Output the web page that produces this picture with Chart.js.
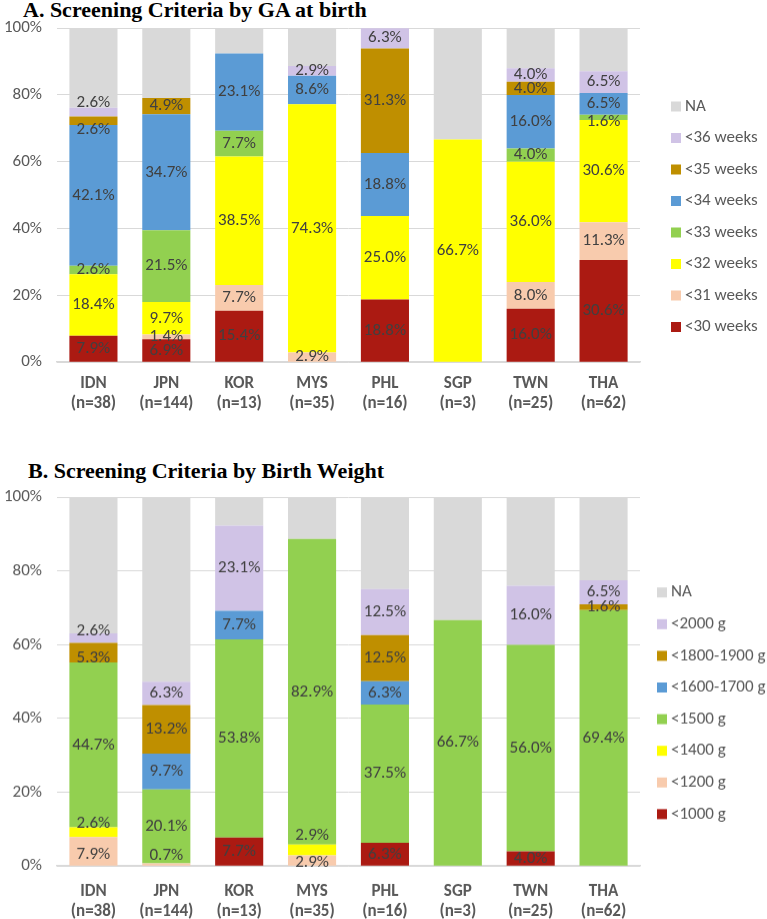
<!DOCTYPE html>
<html>
<head>
<meta charset="utf-8">
<script src="https://cdn.jsdelivr.net/npm/chart.js@4.4.0/dist/chart.umd.min.js"></script>
<style>
  html,body{margin:0;padding:0;background:#fff;}
  #page{position:relative;width:767px;height:919px;overflow:hidden;}
  .ttl{position:absolute;font-family:"Liberation Serif","Times New Roman",serif;font-weight:bold;font-size:22px;line-height:22px;color:#000;white-space:nowrap;}
  .box{position:absolute;left:0;width:767px;}
</style>
</head>
<body>
<div id="page">
  <div class="ttl" style="left:23px;top:-1px">A. Screening Criteria by GA at birth</div>
  <div class="box" style="top:2.8px;height:423.2px"><canvas id="chartA"></canvas></div>
  <div class="ttl" style="left:28px;top:460px">B. Screening Criteria by Birth Weight</div>
  <div class="box" style="top:472.1px;height:464.9px"><canvas id="chartB"></canvas></div>
</div>
<script>
// categories
const countries = ["IDN","JPN","KOR","MYS","PHL","SGP","TWN","THA"];
const sampleSizes = ["(n=38)","(n=144)","(n=13)","(n=35)","(n=16)","(n=3)","(n=25)","(n=62)"];

// A. GA at birth, % of infants (bottom segment first)
const gaLt30 = [7.9, 6.9, 15.4, 0, 18.8, 0, 16.0, 30.6];
const gaLt31 = [0, 1.4, 7.7, 2.9, 0, 0, 8.0, 11.3];
const gaLt32 = [18.4, 9.7, 38.5, 74.3, 25.0, 66.7, 36.0, 30.6];
const gaLt33 = [2.6, 21.5, 7.7, 0, 0, 0, 4.0, 1.6];
const gaLt34 = [42.1, 34.7, 23.1, 8.6, 18.8, 0, 16.0, 6.5];
const gaLt35 = [2.6, 4.9, 0, 0, 31.3, 0, 4.0, 0];
const gaLt36 = [2.6, 0, 0, 2.9, 6.3, 0, 4.0, 6.5];
const gaNA   = [23.8, 20.9, 7.6, 11.3, 0, 33.3, 12.0, 12.9];

// B. birth weight, % of infants (bottom segment first)
const bwLt1000 = [0, 0, 7.7, 0, 6.3, 0, 4.0, 0];
const bwLt1200 = [7.9, 0.7, 0, 2.9, 0, 0, 0, 0];
const bwLt1400 = [2.6, 0, 0, 2.9, 0, 0, 0, 0];
const bwLt1500 = [44.7, 20.1, 53.8, 82.9, 37.5, 66.7, 56.0, 69.4];
const bwLt1700 = [0, 9.7, 7.7, 0, 6.3, 0, 0, 0];
const bwLt1900 = [5.3, 13.2, 0, 0, 12.5, 0, 0, 1.6];
const bwLt2000 = [2.6, 6.3, 23.1, 0, 12.5, 0, 16.0, 6.5];
const bwNA     = [36.9, 50.0, 7.7, 11.3, 25.0, 33.3, 24.0, 22.5];

const C = {
  red:"#AB1A12", peach:"#F8CBAD", yellow:"#FFFF00", green:"#92D050",
  blue:"#5B9BD5", gold:"#BF8F00", lilac:"#D0C3E6", na:"#D9D9D9"
};

// label nudges (px) where Excel moved the small labels off-centre
const nudgeA = {"<36 weeks|IDN":-9, "<35 weeks|IDN":9, "<33 weeks|THA":4};
const nudgeB = {"<2000 g|IDN":-7, "<1800-1900 g|IDN":5, "<1400 g|IDN":-9, "<1200 g|IDN":3,
                "<1200 g|JPN":-9, "<1400 g|MYS":-14, "<1200 g|MYS":2};

const FONT = "Carlito, Lato, sans-serif";
Chart.defaults.font.family = FONT;

const segLabels = {
  id:"segLabels",
  afterDatasetsDraw(chart, args, opts){
    const ctx = chart.ctx;
    ctx.save();
    ctx.font = "17px " + FONT;
    ctx.fillStyle = "#404040";
    ctx.textAlign = "center";
    ctx.textBaseline = "middle";
    chart.data.datasets.forEach((ds,i)=>{
      if(ds.label === "NA") return;
      chart.getDatasetMeta(i).data.forEach((bar,j)=>{
        const v = ds.data[j];
        if(!v) return;
        const dy = (opts.nudge || {})[ds.label + "|" + countries[j]] || 0;
        ctx.fillText(v.toFixed(1) + "%", bar.x, (bar.y + bar.base)/2 + dy);
      });
    });
    ctx.restore();
  }
};

const sideLegend = {
  id:"sideLegend",
  afterDraw(chart, args, opts){
    const ctx = chart.ctx;
    ctx.save();
    ctx.font = "17px " + FONT;
    ctx.textAlign = "left";
    ctx.textBaseline = "middle";
    chart.data.datasets.slice().reverse().forEach((ds,k)=>{
      const cy = opts.y + k*opts.step;
      ctx.fillStyle = ds.backgroundColor;
      ctx.fillRect(opts.x, cy-5, 10, 10);
      ctx.fillStyle = "#595959";
      ctx.fillText(ds.label, opts.x + 14, cy);
    });
    ctx.restore();
  }
};

function makeChart(id, series, nudge, legendPos, pad, tickPad){
  return new Chart(document.getElementById(id), {
    type:"bar",
    data:{
      labels: countries.map((c,i)=>[c, sampleSizes[i]]),
      datasets: series.map(([label,data,color])=>({label, data, backgroundColor:color, borderWidth:0}))
    },
    options:{
      responsive:true, maintainAspectRatio:false, animation:false, events:[],
      categoryPercentage:1, barPercentage:0.66,
      layout:{padding:pad},
      plugins:{
        legend:{display:false}, tooltip:{enabled:false},
        segLabels:{nudge}, sideLegend:legendPos
      },
      scales:{
        x:{stacked:true, grid:{display:false, drawTicks:false},
           border:{color:"#D9D9D9", width:1.5},
           ticks:{color:"#595959", padding:tickPad, font:{size:17, weight:"bold", lineHeight:1.2}}},
        y:{stacked:true, min:0, max:100,
           grid:{color:"#D9D9D9", drawTicks:false},
           border:{display:false},
           afterFit(s){ s.width = 57; },
           ticks:{stepSize:20, padding:15, color:"#595959", font:{size:17, lineHeight:1.2}, callback:v=>v+"%"}}
      }
    },
    plugins:[segLabels, sideLegend]
  });
}

makeChart("chartA", [
  ["<30 weeks", gaLt30, C.red],
  ["<31 weeks", gaLt31, C.peach],
  ["<32 weeks", gaLt32, C.yellow],
  ["<33 weeks", gaLt33, C.green],
  ["<34 weeks", gaLt34, C.blue],
  ["<35 weeks", gaLt35, C.gold],
  ["<36 weeks", gaLt36, C.lilac],
  ["NA", gaNA, C.na]
], nudgeA, {x:671, y:103.5, step:31.5}, {top:0, right:127, bottom:0.6, left:0}, 11.3);

makeChart("chartB", [
  ["<1000 g", bwLt1000, C.red],
  ["<1200 g", bwLt1200, C.peach],
  ["<1400 g", bwLt1400, C.yellow],
  ["<1500 g", bwLt1500, C.green],
  ["<1600-1700 g", bwLt1700, C.blue],
  ["<1800-1900 g", bwLt1900, C.gold],
  ["<2000 g", bwLt2000, C.lilac],
  ["NA", bwNA, C.na]
], nudgeB, {x:657, y:120.2, step:31.6}, {top:0, right:127, bottom:0.9, left:0}, 15);
</script>
</body>
</html>
